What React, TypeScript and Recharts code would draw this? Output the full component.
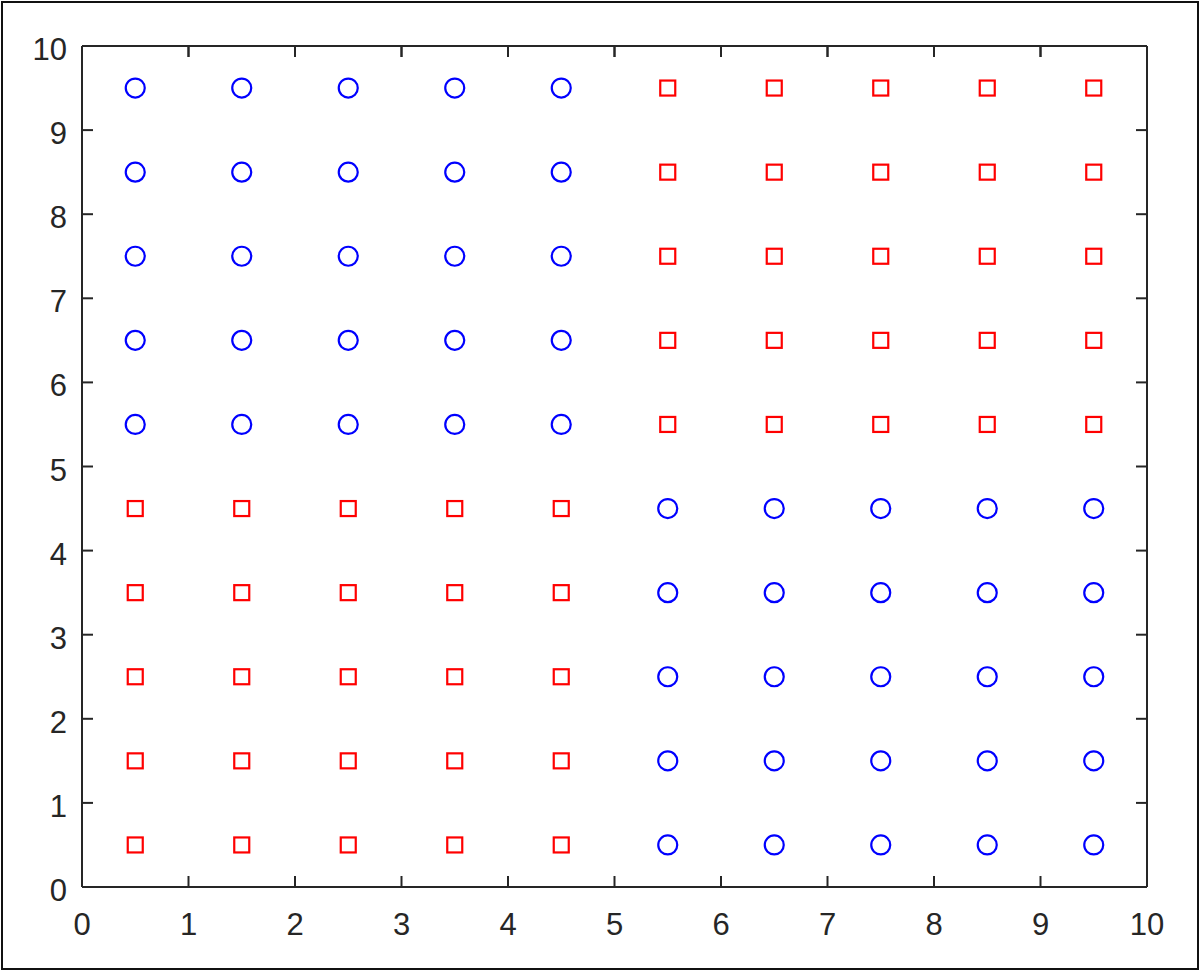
import { ScatterChart, Scatter, XAxis, YAxis } from 'recharts';

// grid positions
const leftCols = [0.5, 1.5, 2.5, 3.5, 4.5];
const rightCols = [5.5, 6.5, 7.5, 8.5, 9.5];
const lowerRows = [0.5, 1.5, 2.5, 3.5, 4.5];
const upperRows = [5.5, 6.5, 7.5, 8.5, 9.5];

const xTicks = [0, 1, 2, 3, 4, 5, 6, 7, 8, 9, 10];
const yTicks = [0, 1, 2, 3, 4, 5, 6, 7, 8, 9, 10];

const grid = (cols: number[], rows: number[]) =>
  cols.flatMap((x) => rows.map((y) => ({ x, y })));

const circlePoints = [...grid(leftCols, upperRows), ...grid(rightCols, lowerRows)];
const squarePoints = [...grid(rightCols, upperRows), ...grid(leftCols, lowerRows)];
// tick marks along the top edge of the box
const topTickPoints = xTicks.slice(1, -1).map((x) => ({ x, y: 10 }));

const INK = '#262626';
const FONT = '"Liberation Sans", Arial, Helvetica, sans-serif';

const lineStyle = { stroke: INK, strokeWidth: 2 };
const tickText = { fill: INK, fontSize: 31, fontFamily: FONT };

// right axis only carries the inward tick marks
const noLabel = () => <g />;

const CircleMark = (props: any) => (
  <circle cx={props.cx} cy={props.cy} r={9.5} fill="none" stroke="#0000ff" strokeWidth={2.2} />
);

const SquareMark = (props: any) => (
  <rect
    x={props.cx - 7.5}
    y={props.cy - 7.5}
    width={15}
    height={15}
    fill="none"
    stroke="#ff0000"
    strokeWidth={2.2}
  />
);

const TopTick = (props: any) => (
  <line x1={props.cx} y1={props.cy} x2={props.cx} y2={props.cy + 11} stroke={INK} strokeWidth={2} />
);

export default function App() {
  return (
    <div style={{ position: 'absolute', left: 0, top: 0, width: 1200, height: 971, background: '#fff' }}>
      <div
        style={{
          position: 'absolute',
          left: 1,
          top: 1,
          width: 1198,
          height: 969,
          boxSizing: 'border-box',
          border: '2px solid #111',
        }}
      />
      <ScatterChart width={1200} height={971} margin={{ top: 46, right: 32, left: 0, bottom: 0 }}>
        <XAxis
          xAxisId="bottom"
          type="number"
          dataKey="x"
          domain={[0, 10]}
          ticks={xTicks}
          interval={0}
          height={84}
          tickSize={-11}
          tickMargin={37}
          axisLine={lineStyle}
          tickLine={lineStyle}
          tick={tickText}
        />
        <XAxis
          xAxisId="top"
          orientation="top"
          mirror
          type="number"
          dataKey="x"
          domain={[0, 10]}
          ticks={xTicks}
          interval={0}
          height={20}
          tickSize={11}
          axisLine={lineStyle}
          tickLine={lineStyle}
          tick={noLabel}
        />
        <YAxis
          yAxisId="left"
          type="number"
          dataKey="y"
          domain={[0, 10]}
          ticks={yTicks}
          interval={0}
          width={82}
          tickSize={-11}
          tickMargin={26}
          axisLine={lineStyle}
          tickLine={lineStyle}
          tick={{ ...tickText, dy: 3 }}
        />
        <YAxis
          yAxisId="right"
          orientation="right"
          type="number"
          dataKey="y"
          domain={[0, 10]}
          ticks={yTicks}
          interval={0}
          width={21}
          tickSize={-11}
          axisLine={lineStyle}
          tickLine={lineStyle}
          tick={noLabel}
        />
        <Scatter
          xAxisId="bottom"
          yAxisId="left"
          data={topTickPoints}
          shape={TopTick}
          isAnimationActive={false}
        />
        <Scatter
          xAxisId="bottom"
          yAxisId="left"
          data={circlePoints}
          shape={CircleMark}
          isAnimationActive={false}
        />
        <Scatter
          xAxisId="top"
          yAxisId="right"
          data={squarePoints}
          shape={SquareMark}
          isAnimationActive={false}
        />
      </ScatterChart>
    </div>
  );
}
